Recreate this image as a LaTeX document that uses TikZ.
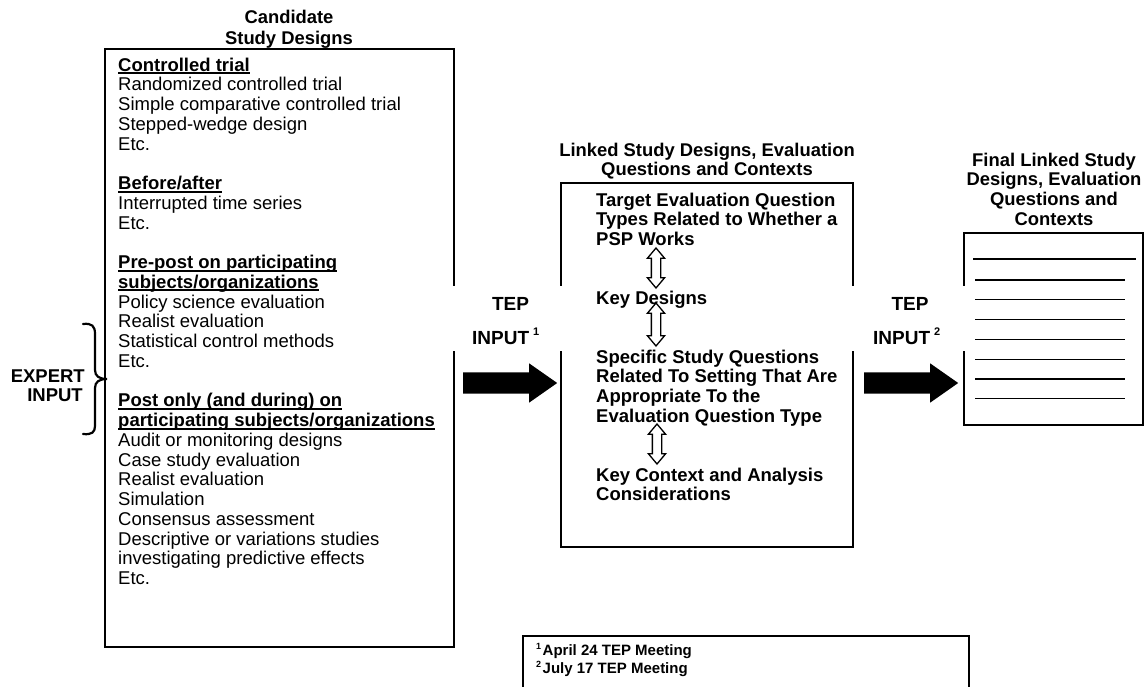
\documentclass[tikz,border=0pt]{standalone}
\usepackage{fontspec}
\setmainfont{Liberation Sans}
\usetikzlibrary{shapes.arrows}
\newsavebox\hulbox
\newcommand\hul[1]{\sbox\hulbox{#1}\rlap{\rule[-3pt]{\wd\hulbox}{2pt}}#1}
\newcommand\skA{\rule[-5.75pt]{0pt}{19.75pt}}
\newcommand\skB{\rule[-5.6pt]{0pt}{19.6pt}}
\newcommand\skF{\rule[-4pt]{0pt}{18pt}}
\newcommand\supn[1]{\raisebox{9pt}{\fontsize{11}{11}\selectfont\bfseries #1}}
\newcommand\supf[1]{\raisebox{6pt}{\fontsize{9}{9}\selectfont\bfseries #1}}
\tikzset{
  boxline/.style={line width=2.5pt, line join=miter, line cap=rect},
  txt/.style={inner sep=0pt, align=left, font=\fontsize{18.5}{19.75}\selectfont},
  btxt/.style={inner sep=0pt, align=left, font=\fontsize{18.5}{19.6}\selectfont\bfseries},
  ttl/.style={inner sep=0pt, align=center, font=\fontsize{18.4}{19.7}\selectfont\bfseries},
  tep/.style={inner sep=0pt, font=\fontsize{19}{20}\selectfont\bfseries},
  bigarrow/.style={single arrow, fill=black, inner sep=0pt, inner ysep=10.5pt,
    single arrow head extend=9pt, single arrow tip angle=70, minimum height=94pt, anchor=tail},
  dblarr/.style={double arrow, draw=black, fill=white, line width=1.3pt, rotate=90,
    inner sep=0pt, inner ysep=4pt, double arrow head extend=4pt, double arrow tip angle=80},
  rule/.style={line width=1.2pt}
}
\begin{document}
\begin{tikzpicture}[x=1pt, y=-1pt]
\path[use as bounding box] (0,0) rectangle (1146,687);
\clip (0,0) rectangle (1146,687);

% ---------- left box ----------
\node[ttl, anchor=north] (lefttitle) at (289,8.7) {Candidate\rule[-5.7pt]{0pt}{20pt}\\Study Designs\rule[-5.7pt]{0pt}{20pt}};
\draw[boxline] (454,285) -- (454,49) -- (105,49) -- (105,647) -- (454,647) -- (454,352);
\node[txt, anchor=north west] (cands) at (118,57) {%
\hul{\textbf{Controlled trial}}\skA\\
Randomized controlled trial\skA\\
Simple comparative controlled trial\skA\\
Stepped-wedge design\skA\\
Etc.\skA\\
\skA\\
\hul{\textbf{Before/after}}\skA\\
Interrupted time series\skA\\
Etc.\skA\\
\skA\\
\hul{\textbf{Pre-post on participating}}\skA\\
\hul{\textbf{subjects/organizations}}\skA\\
Policy science evaluation\skA\\
Realist evaluation\skA\\
Statistical control methods\skA\\
Etc.\skA\\
\skA\\
\hul{\textbf{Post only (and during) on}}\skA\\
\hul{\textbf{participating subjects/organizations}}\skA\\
Audit or monitoring designs\skA\\
Case study evaluation\skA\\
Realist evaluation\skA\\
Simulation\skA\\
Consensus assessment\skA\\
Descriptive or variations studies\skA\\
investigating predictive effects\skA\\
Etc.\skA};

% ---------- expert input brace ----------
\node[btxt, anchor=base east] (expert) at (85,382.7) {EXPERT};
\node[btxt, anchor=base east] (expinput) at (83,401.7) {INPUT};
\coordinate (bracetip) at (107,379);
\draw[line width=2.2pt, line cap=round] (83,324) .. controls (92,323) and (95,326) .. (95,334)
  -- (95,370) .. controls (95,376) and (99,379) .. (bracetip)
  .. controls (99,379) and (95,382) .. (95,388)
  -- (95,426) .. controls (95,432) and (92,435) .. (83,434);

% ---------- TEP input 1 ----------
\node[tep, anchor=base] (tep1) at (510.5,310) {TEP};
\node[tep, anchor=base west] (inp1) at (472,344) {INPUT\hspace{4pt}\supn{1}};
\node[bigarrow] (arr1) at (463,383) {};

% ---------- middle box ----------
\node[ttl, anchor=north] (midtitle) at (707,142) {Linked Study Designs, Evaluation\rule[-5pt]{0pt}{19pt}\\Questions and Contexts\rule[-5pt]{0pt}{19pt}};
\draw[boxline] (561,285) -- (561,183) -- (853,183) -- (853,285);
\draw[boxline] (561,352) -- (561,547) -- (853,547) -- (853,352);
\node[btxt, anchor=north west] (target) at (596,192) {Target Evaluation Question\skB\\Types Related to Whether a\skB\\PSP Works\skB};
\node[btxt, anchor=north west] (keyd) at (596,290) {Key Designs\skB};
\node[btxt, anchor=north west] (specific) at (596,349) {Specific Study Questions\skB\\Related To Setting That Are\skB\\Appropriate To the\skB\\Evaluation Question Type\skB};
\node[btxt, anchor=north west] (context) at (596,467) {Key Context and Analysis\skB\\Considerations\skB};
\node[dblarr, minimum height=40pt] (da1) at (656,268) {};
\node[dblarr, minimum height=43pt] (da2) at (656,324.5) {};
\node[dblarr, minimum height=40pt] (da3) at (657,444) {};

% ---------- TEP input 2 ----------
\node[tep, anchor=base] (tep2) at (910,310) {TEP};
\node[tep, anchor=base west] (inp2) at (873,344) {INPUT\hspace{4pt}\supn{2}};
\node[bigarrow] (arr2) at (864,383) {};

% ---------- right box ----------
\node[ttl, anchor=north] (righttitle) at (1054,152) {Final Linked Study\rule[-5.7pt]{0pt}{19.7pt}\\Designs, Evaluation\rule[-5.7pt]{0pt}{19.7pt}\\Questions and\rule[-5.7pt]{0pt}{19.7pt}\\Contexts\rule[-5.7pt]{0pt}{19.7pt}};
\draw[boxline] (964,285) -- (964,233) -- (1143,233) -- (1143,425) -- (964,425) -- (964,352);
\draw[line width=2.5pt] (973,259) -- (1136,259);
\foreach \i in {0,...,6} \draw[rule] (975,{280+19.8*\i}) -- (1125,{280+19.8*\i});

% ---------- footnotes ----------
\draw[line width=2pt, line join=miter] (523,700) -- (523,636) -- (969,636) -- (969,700);
\node[inner sep=0pt, align=left, font=\fontsize{15}{18}\selectfont\bfseries, anchor=north west] (notes) at (536,641)
  {\supf{1}\hspace{1.5pt}April 24 TEP Meeting\skF\\\supf{2}\hspace{1.5pt}July 17 TEP Meeting\skF};
\end{tikzpicture}
\end{document}
